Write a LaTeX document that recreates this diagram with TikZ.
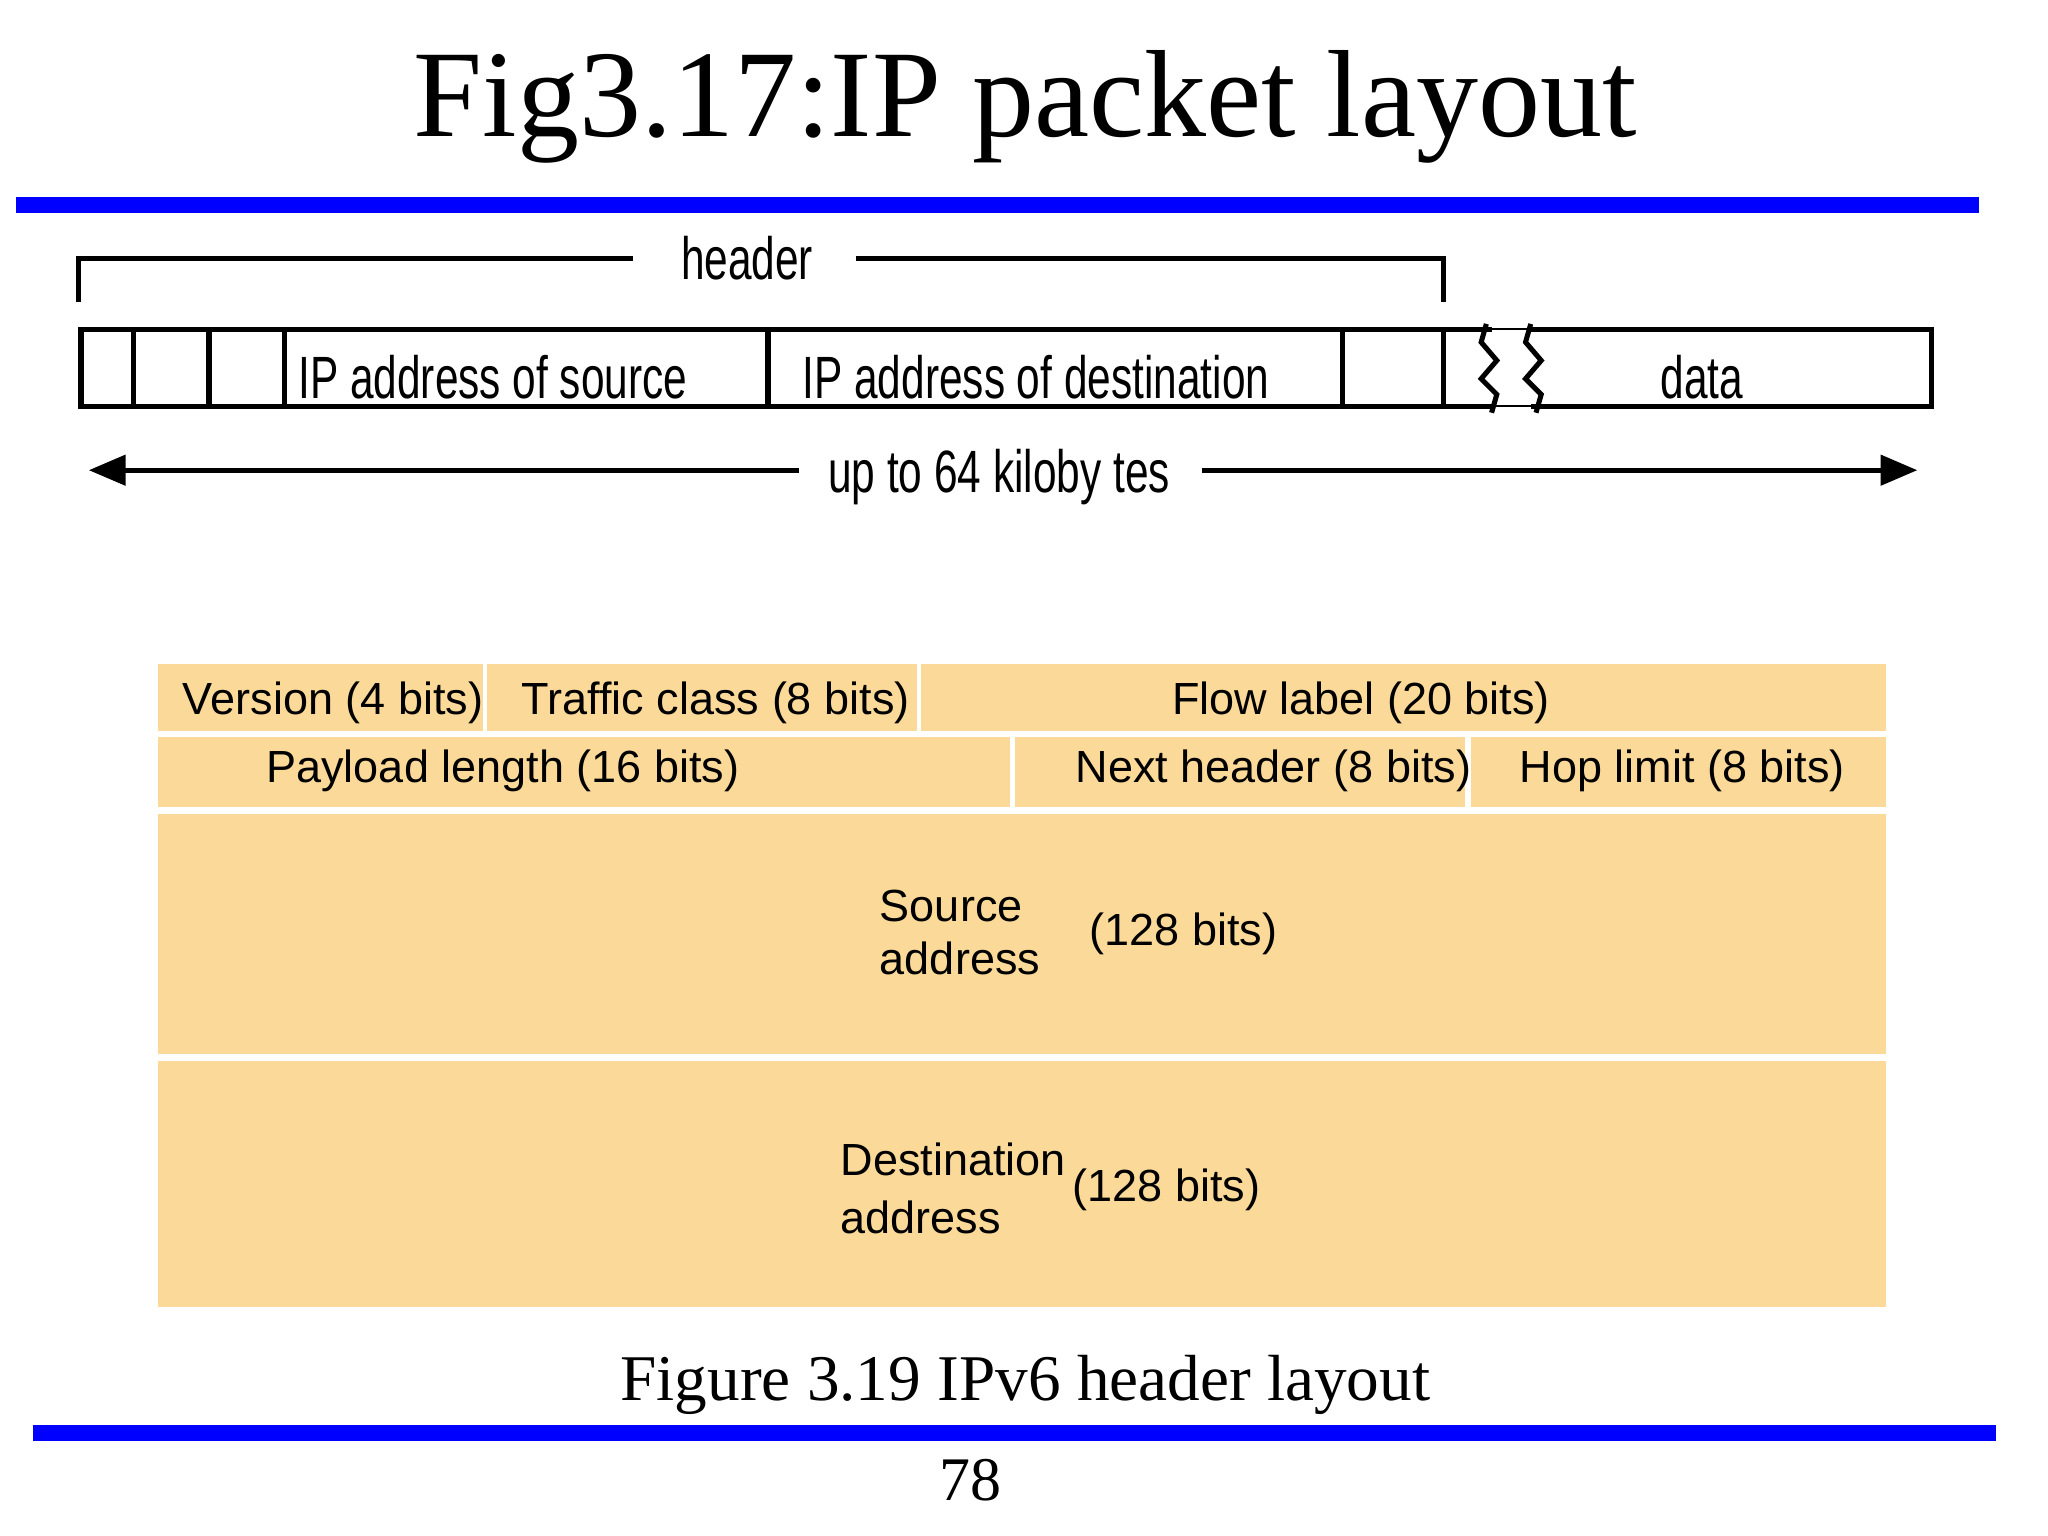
\documentclass[tikz,border=0pt]{standalone}
\usepackage{fontspec}
\setmainfont{Liberation Serif}
\newfontfamily\arial{Liberation Sans}
\usetikzlibrary{arrows.meta}
\definecolor{cell}{RGB}{251,217,153}
\definecolor{bblue}{RGB}{0,0,255}
\begin{document}
\begin{tikzpicture}[x=0.01cm,y=-0.01cm,
  thk/.style={line width=1.1pt,black},
  cnd/.style={font=\arial\fontsize{13}{15}\selectfont,inner sep=0,xscale=0.71},
  cellbox/.style={fill=cell,draw=none},
  ctext/.style={font=\arial\fontsize{9.8}{11.5}\selectfont,inner sep=0}]
\useasboundingbox (0,0) rectangle (1568,1176);
% title
\node (title) at (785,82) {\fontsize{27}{31}\selectfont Fig3.17:IP packet layout};
\draw[bblue,line width=3.4pt] (12,157) -- (1515,157);
% header bracket
\node[cnd,anchor=base] (hdr) at (572,214) {header};
\coordinate (bl) at (60,231); \coordinate (br) at (1105,231);
\draw[thk] (bl) -- (60,198) -- (485,198);
\draw[thk] (655,198) -- (1105,198) -- (br);
% packet
\draw[thk] (62,252) rectangle (1479,311);
\foreach \x in {102,160,218,588,1028,1105} \draw[thk] (\x,252) -- (\x,311);
\fill[white] (1142,249) rectangle (1172,255);
\fill[white] (1142,308) rectangle (1172,314);
\draw[line width=0.4pt] (1142,252) -- (1172,252) (1142,311) -- (1172,311);
\draw[thk] (1138,248) -- (1134,262) -- (1146,276) -- (1134,290) -- (1146,302) -- (1142,316);
\draw[thk] (1172,248) -- (1168,262) -- (1180,276) -- (1168,290) -- (1180,302) -- (1176,316);
\node[cnd,anchor=base west] (src) at (228,305) {IP address of source};
\node[cnd,anchor=base west] (dst) at (614,305) {IP address of destination};
\node[cnd,anchor=base] (data) at (1303,305) {data};
% length arrow
\node[cnd,anchor=base] (len) at (765,377) {up to 64 kiloby tes};
\coordinate (la) at (68,360); \coordinate (ra) at (1468,360);
\draw[thk,-{Triangle[length=8pt,width=6.5pt]}] (612,360) -- (la);
\draw[thk,-{Triangle[length=8pt,width=6.5pt]}] (920,360) -- (ra);
% IPv6 table
\fill[cellbox] (121,508) rectangle (370,560);
\fill[cellbox] (373,508) rectangle (702,560);
\fill[cellbox] (705,508) rectangle (1444,560);
\fill[cellbox] (121,564) rectangle (773,618);
\fill[cellbox] (777,564) rectangle (1122,618);
\fill[cellbox] (1126,564) rectangle (1444,618);
\fill[cellbox] (121,623) rectangle (1444,807);
\fill[cellbox] (121,812) rectangle (1444,1001);
\node[ctext] (ver) at (255,538) {Version (4 bits)};
\node[ctext] (tc) at (548,538) {Traffic class (8 bits)};
\node[ctext] (fl) at (1042,538) {Flow label (20 bits)};
\node[ctext] (pl) at (385,590) {Payload length (16 bits)};
\node[ctext] (nh) at (975,590) {Next header (8 bits)};
\node[ctext] (hl) at (1288,590) {Hop limit (8 bits)};
\node[ctext,anchor=west,align=left] (sa) at (673,714) {Source\\address};
\node[ctext] (sb) at (906,715) {(128 bits)};
\node[ctext,anchor=west,align=left] (da) at (643,910) {Destination\\[1pt]address};
\node[ctext] (db) at (893,911) {(128 bits)};
% caption
\node (cap) at (785,1060) {\fontsize{14.2}{17}\selectfont Figure 3.19 IPv6 header layout};
\draw[bblue,line width=3.4pt] (25,1097) -- (1528,1097);
\node (pg) at (743,1133) {\fontsize{13.5}{16}\selectfont 78};
\end{tikzpicture}
\end{document}
